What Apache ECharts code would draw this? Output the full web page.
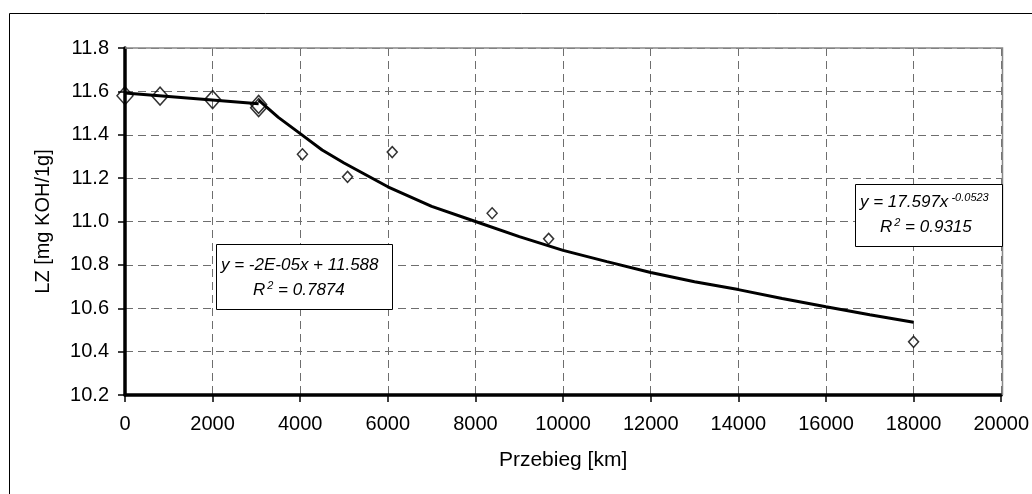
<!DOCTYPE html>
<html>
<head>
<meta charset="UTF-8"/>
<title>LZ</title>
<script src="https://cdn.jsdelivr.net/npm/echarts@6/dist/echarts.min.js"></script>
<style>
html, body { margin: 0; padding: 0; background: #fff; }
#placeholder { width: 1032px; height: 494px; }
</style>
</head>
<body>
<div id="placeholder"></div>
<script type="text/javascript">
// measured points, first stage (large diamonds)
var przebiegA = [0, 800, 2000, 3050, 3050];
var lzA = [11.58, 11.578, 11.562, 11.525, 11.54];
// measured points, second stage (small diamonds)
var przebiegB = [4050, 5080, 6100, 8380, 9670, 18000];
var lzB = [11.31, 11.206, 11.32, 11.038, 10.92, 10.445];
// linear trend
var linX = [0, 3050];
var linY = [11.592, 11.543];
// power trend
var powX = [3050, 3500, 4000, 4500, 5000, 6000, 7000, 8000, 9000, 10000, 11000, 12000, 13000, 14000, 15000, 16000, 17000, 18000];
var powY = [11.56, 11.48, 11.405, 11.33, 11.27, 11.16, 11.07, 11.0, 10.93, 10.867, 10.815, 10.765, 10.722, 10.686, 10.645, 10.607, 10.57, 10.535];

var xTicks = [0, 2000, 4000, 6000, 8000, 10000, 12000, 14000, 16000, 18000, 20000];

function pairs(xs, ys) {
    var res = [];
    for (var i = 0; i < xs.length; i++) {
        res.push([xs[i], ys[i]]);
    }
    return res;
}

var myChart = echarts.init(document.getElementById('placeholder'), null, {renderer: 'canvas'});
var font = 'Liberation Sans, Arial, sans-serif';

var eqText = { fontFamily: font, fontSize: 17, fontStyle: 'italic', fill: '#000' };
var eqSup = { fontFamily: font, fontSize: 11, fontStyle: 'italic', fill: '#000', padding: [0, 0, 8, 2] };

var option = {
    backgroundColor: '#fff',
    animation: false,
    grid: { left: 125, right: 30, top: 48, bottom: 99 },
    xAxis: {
        type: 'value',
        min: xTicks[0],
        max: xTicks[xTicks.length - 1],
        interval: 2000,
        name: 'Przebieg [km]',
        nameLocation: 'middle',
        nameGap: 55,
        nameTextStyle: { fontFamily: font, fontSize: 21, color: '#000' },
        axisLine: { show: true, onZero: false, lineStyle: { color: '#000', width: 3.5 } },
        axisTick: { show: true, length: 7, lineStyle: { color: '#000', width: 1.5 } },
        axisLabel: {
            fontFamily: font, fontSize: 20, color: '#000', margin: 19,
            formatter: function (v) { return String(v); }
        },
        splitLine: { show: true, lineStyle: { color: '#6e6e6e', type: [8, 5], width: 1 } }
    },
    yAxis: {
        type: 'value',
        min: 10.2,
        max: 11.8,
        interval: 0.2,
        name: 'LZ [mg KOH/1g]',
        nameLocation: 'middle',
        nameGap: 72,
        nameTextStyle: { fontFamily: font, fontSize: 20, color: '#000' },
        axisLine: { show: true, lineStyle: { color: '#000', width: 3.5 } },
        axisTick: { show: true, length: 7, lineStyle: { color: '#000', width: 1.5 } },
        axisLabel: {
            fontFamily: font, fontSize: 20, color: '#000', margin: 16,
            formatter: function (v) { return v.toFixed(1); }
        },
        splitLine: { show: true, lineStyle: { color: '#6e6e6e', type: [8, 5], width: 1 } }
    },
    graphic: [
        // outer chart frame
        { type: 'rect', silent: true, z: -10,
          shape: { x: 9.5, y: 13.5, width: 1100, height: 600 },
          style: { fill: 'none', stroke: '#000', lineWidth: 1 } },
        // plot area border (top and right)
        { type: 'polyline', silent: true, z: 1,
          shape: { points: [[125, 48], [1002.5, 48], [1002.5, 395]] },
          style: { fill: 'none', stroke: '#888', lineWidth: 1.5 } },
        // equation boxes
        { type: 'rect', z: 20,
          shape: { x: 216.5, y: 244.5, width: 176, height: 65 },
          style: { fill: '#fff', stroke: '#000', lineWidth: 1 } },
        { type: 'text', z: 21,
          style: { x: 221, y: 265, verticalAlign: 'middle', text: 'y = -2E-05x + 11.588',
                   fontFamily: font, fontSize: 17, fontStyle: 'italic', fill: '#000' } },
        { type: 'text', z: 21,
          style: { x: 253, y: 290, verticalAlign: 'middle', text: '{t|R}{s|2}{t| = 0.7874}',
                   rich: { t: eqText, s: eqSup } } },
        { type: 'rect', z: 20,
          shape: { x: 855.5, y: 184.5, width: 147, height: 62 },
          style: { fill: '#fff', stroke: '#000', lineWidth: 1 } },
        { type: 'text', z: 21,
          style: { x: 860, y: 202, verticalAlign: 'middle', text: '{t|y = 17.597x}{s| -0.0523}',
                   rich: { t: eqText, s: { fontFamily: font, fontSize: 11, fontStyle: 'italic', fill: '#000', padding: [0, 0, 9, 0] } } } },
        { type: 'text', z: 21,
          style: { x: 880, y: 227, verticalAlign: 'middle', text: '{t|R}{s|2}{t| = 0.9315}',
                   rich: { t: eqText, s: eqSup } } }
    ],
    series: [
        {
            name: 'trend liniowy',
            type: 'line',
            data: pairs(linX, linY),
            showSymbol: false,
            lineStyle: { color: '#000', width: 3 },
            z: 3
        },
        {
            name: 'trend potęgowy',
            type: 'line',
            data: pairs(powX, powY),
            showSymbol: false,
            lineStyle: { color: '#000', width: 3 },
            z: 3
        },
        {
            name: 'etap 1',
            type: 'scatter',
            data: pairs(przebiegA, lzA),
            symbol: 'diamond',
            symbolSize: [16, 18],
            itemStyle: { color: 'rgba(255,255,255,0)', borderColor: '#000', borderWidth: 1.5 },
            z: 4
        },
        {
            name: 'etap 2',
            type: 'scatter',
            data: pairs(przebiegB, lzB),
            symbol: 'diamond',
            symbolSize: [10, 11],
            itemStyle: { color: '#fff', borderColor: '#000', borderWidth: 1.5 },
            z: 4
        }
    ]
};

if (option && typeof option === 'object') {
    myChart.setOption(option, true);
}
</script>
</body>
</html>
